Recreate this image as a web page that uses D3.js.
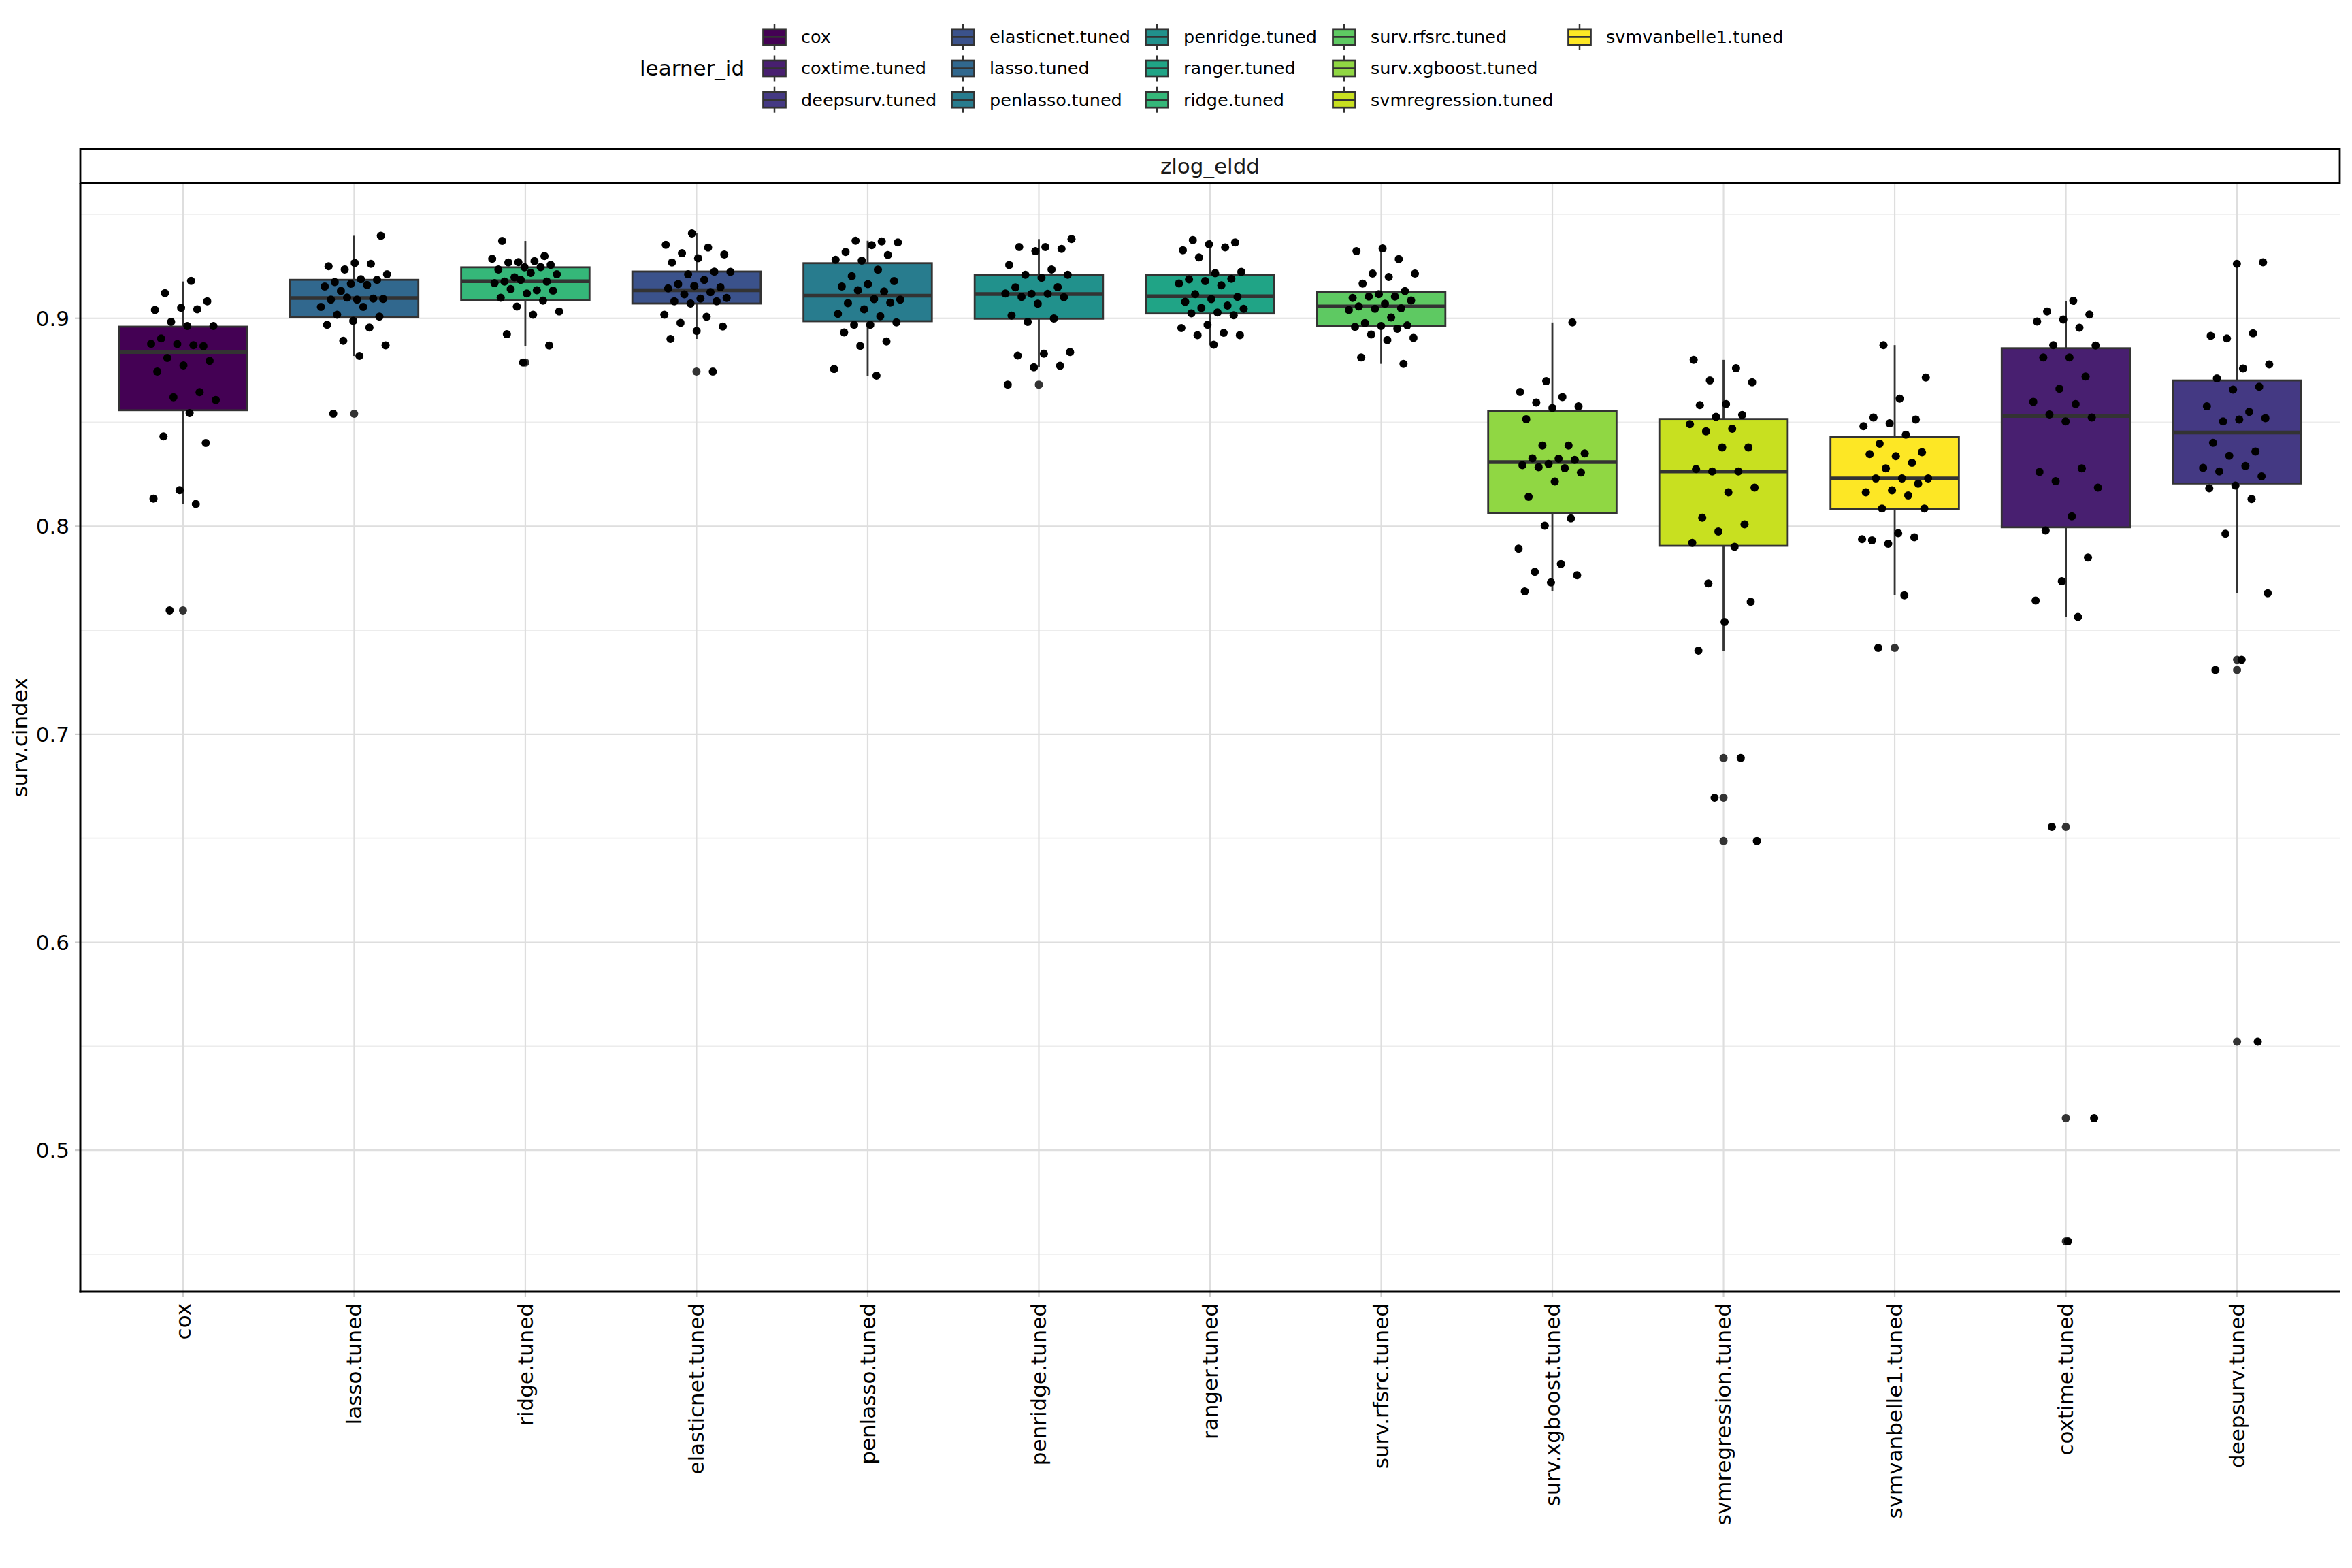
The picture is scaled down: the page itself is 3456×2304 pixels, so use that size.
<!DOCTYPE html>
<html>
<head>
<meta charset="utf-8">
<script src="https://cdn.jsdelivr.net/npm/d3@7"></script>
<style>
  html, body { margin: 0; padding: 0; background: #ffffff; }
  text { font-family: "DejaVu Sans", sans-serif; }
</style>
</head>
<body>
<svg id="chart" width="3456" height="2304"></svg>
<script>
// ---------------- DATA ----------------
// x-axis order of learners
const learners = ["cox", "lasso.tuned", "ridge.tuned", "elasticnet.tuned", "penlasso.tuned",
  "penridge.tuned", "ranger.tuned", "surv.rfsrc.tuned", "surv.xgboost.tuned",
  "svmregression.tuned", "svmvanbelle1.tuned", "coxtime.tuned", "deepsurv.tuned"];

// legend / colour order (factor levels)
const levels = ["cox", "coxtime.tuned", "deepsurv.tuned", "elasticnet.tuned", "lasso.tuned",
  "penlasso.tuned", "penridge.tuned", "ranger.tuned", "ridge.tuned", "surv.rfsrc.tuned",
  "surv.xgboost.tuned", "svmregression.tuned", "svmvanbelle1.tuned"];

const yTicks = [0.5, 0.6, 0.7, 0.8, 0.9];
const yMinorTicks = [0.45, 0.55, 0.65, 0.75, 0.85, 0.95];
const taskName = "zlog_eldd";
const yTitle = "surv.cindex";
const legendTitle = "learner_id";

// per-iteration surv.cindex values
const coxVals = [0.918, 0.9121, 0.9082, 0.9051, 0.904, 0.9043, 0.8983, 0.8963, 0.8963, 0.8903, 0.8866, 0.8876, 0.8877, 0.8871, 0.8809, 0.8795, 0.8773, 0.8744, 0.8645, 0.862, 0.8607, 0.8544, 0.8432, 0.84, 0.8174, 0.8133, 0.8107, 0.7595];
const lassoVals = [0.9397, 0.9266, 0.925, 0.9262, 0.9235, 0.9212, 0.9188, 0.9174, 0.9185, 0.9166, 0.9153, 0.916, 0.9132, 0.9093, 0.909, 0.909, 0.9095, 0.91, 0.9055, 0.9055, 0.9017, 0.9008, 0.8988, 0.8969, 0.8956, 0.8892, 0.887, 0.8819, 0.8541];
const ridgeVals = [0.9372, 0.9299, 0.927, 0.9286, 0.9275, 0.9268, 0.9257, 0.9245, 0.9235, 0.9246, 0.9197, 0.9212, 0.9218, 0.9177, 0.9177, 0.9185, 0.9169, 0.9135, 0.9141, 0.9133, 0.9119, 0.9099, 0.9085, 0.9056, 0.9033, 0.9017, 0.8924, 0.8869, 0.8787];
const elasticnetVals = [0.9408, 0.9353, 0.934, 0.9313, 0.9307, 0.9289, 0.9268, 0.9224, 0.9212, 0.9223, 0.9185, 0.9164, 0.915, 0.9155, 0.9144, 0.9126, 0.9115, 0.9098, 0.9095, 0.9082, 0.9082, 0.9071, 0.9017, 0.9007, 0.8978, 0.8961, 0.8939, 0.8901, 0.8744];
const penlassoVals = [0.937, 0.9373, 0.9365, 0.9352, 0.9319, 0.9304, 0.9277, 0.9281, 0.9234, 0.9203, 0.9179, 0.9164, 0.9153, 0.9129, 0.9135, 0.909, 0.9092, 0.9073, 0.9075, 0.9043, 0.9021, 0.901, 0.8969, 0.898, 0.8969, 0.8932, 0.8889, 0.8867, 0.8756, 0.8724];
const penridgeVals = [0.9381, 0.9343, 0.9343, 0.9334, 0.9323, 0.9256, 0.9235, 0.9209, 0.9209, 0.9195, 0.9149, 0.915, 0.9118, 0.9119, 0.9118, 0.9103, 0.9101, 0.907, 0.9013, 0.8999, 0.8983, 0.8838, 0.883, 0.8821, 0.8772, 0.8764, 0.8681];
const rangerVals = [0.9376, 0.9365, 0.9356, 0.9327, 0.9341, 0.9293, 0.9223, 0.9217, 0.9187, 0.919, 0.9179, 0.9168, 0.9159, 0.9116, 0.9103, 0.9092, 0.9079, 0.9061, 0.905, 0.9046, 0.9028, 0.9024, 0.9015, 0.8969, 0.8953, 0.893, 0.8919, 0.8919, 0.8873];
const rfsrcVals = [0.9336, 0.9323, 0.9285, 0.9215, 0.9215, 0.9199, 0.9167, 0.9131, 0.9116, 0.9098, 0.9105, 0.9105, 0.9086, 0.907, 0.9057, 0.9048, 0.9046, 0.904, 0.9004, 0.8977, 0.8966, 0.8963, 0.8959, 0.895, 0.8922, 0.8906, 0.8895, 0.8812, 0.8781];
const xgboostVals = [0.898, 0.8698, 0.8646, 0.8621, 0.8595, 0.8577, 0.8569, 0.8515, 0.8388, 0.8388, 0.835, 0.8325, 0.8327, 0.8319, 0.83, 0.8294, 0.8279, 0.8284, 0.8259, 0.8215, 0.8142, 0.8038, 0.8003, 0.7892, 0.7819, 0.7781, 0.7765, 0.773, 0.7687];
const svmregressionVals = [0.88, 0.876, 0.8701, 0.8692, 0.8588, 0.8583, 0.8535, 0.8526, 0.8491, 0.8469, 0.8457, 0.8379, 0.8379, 0.8275, 0.8264, 0.8264, 0.8186, 0.8163, 0.8041, 0.8009, 0.7975, 0.792, 0.7901, 0.7725, 0.7637, 0.754, 0.7402, 0.6886, 0.6695, 0.6487];
const svmvanbelle1Vals = [0.8871, 0.8715, 0.8614, 0.8523, 0.8513, 0.8495, 0.8481, 0.844, 0.8397, 0.8356, 0.8337, 0.8347, 0.8305, 0.8278, 0.823, 0.823, 0.823, 0.8205, 0.8173, 0.8163, 0.8148, 0.8085, 0.8085, 0.7967, 0.7932, 0.7947, 0.7916, 0.7938, 0.7668, 0.7415];
const coxtimeVals = [0.9084, 0.9033, 0.9018, 0.8994, 0.8984, 0.8955, 0.8871, 0.8869, 0.8812, 0.8812, 0.872, 0.8661, 0.8598, 0.8588, 0.8538, 0.8523, 0.8504, 0.8261, 0.8278, 0.8217, 0.8186, 0.8048, 0.798, 0.785, 0.7736, 0.7643, 0.7564, 0.6555, 0.5154, 0.4562];
const deepsurvVals = [0.9269, 0.9262, 0.8916, 0.8928, 0.8903, 0.8778, 0.8759, 0.8711, 0.8671, 0.8657, 0.8577, 0.855, 0.8504, 0.852, 0.8513, 0.8401, 0.8359, 0.8339, 0.8281, 0.829, 0.8264, 0.824, 0.8196, 0.8183, 0.8131, 0.7964, 0.7678, 0.7358, 0.7309, 0.5522];

// box statistics (in x-axis order)
const whiskerLow  = [0.8107, 0.8819, 0.8868, 0.8901, 0.8724, 0.8764, 0.8873, 0.8781, 0.7687, 0.7402, 0.7668, 0.7564, 0.7678];
const q1          = [0.8558, 0.9006, 0.9086, 0.9071, 0.8986, 0.8998, 0.9023, 0.8963, 0.8062, 0.7906, 0.8082, 0.7995, 0.8206];
const medians     = [0.8838, 0.9097, 0.9178, 0.9135, 0.9109, 0.9117, 0.9106, 0.9057, 0.8309, 0.8264, 0.8230, 0.8530, 0.8451];
const q3          = [0.8960, 0.9185, 0.9245, 0.9225, 0.9265, 0.9209, 0.9209, 0.9128, 0.8554, 0.8516, 0.8431, 0.8856, 0.8701];
const whiskerHigh = [0.9177, 0.9397, 0.9372, 0.9408, 0.9373, 0.9381, 0.9376, 0.9336, 0.8980, 0.8800, 0.8871, 0.9084, 0.9269];

// ---------------- BUILD ----------------
const valueArrays = [coxVals, lassoVals, ridgeVals, elasticnetVals, penlassoVals, penridgeVals,
  rangerVals, rfsrcVals, xgboostVals, svmregressionVals, svmvanbelle1Vals, coxtimeVals, deepsurvVals];

const table = learners.map((id, k) => ({
  id, values: valueArrays[k],
  lo: whiskerLow[k], q1: q1[k], med: medians[k], q3: q3[k], hi: whiskerHigh[k]
}));

const W = 3456, H = 2304;
const panel = { left: 118, right: 3438, top: 269, bottom: 1898 };
const strip = { top: 219, bottom: 269 };

const svg = d3.select("#chart");
svg.append("rect").attr("width", W).attr("height", H).attr("fill", "#ffffff");

const allVals = valueArrays.flat();
const vmin = d3.min(allVals), vmax = d3.max(allVals);
const pad = (vmax - vmin) * 0.05;
const y = d3.scaleLinear().domain([vmin - pad, vmax + pad]).range([panel.bottom, panel.top]);
const x = d3.scalePoint().domain(learners).range([panel.left, panel.right]).padding(0.6);
const step = x.step();
const boxW = step * 0.75;
const color = d3.scaleOrdinal().domain(levels)
  .range(levels.map((d, i) => d3.interpolateViridis(i / (levels.length - 1))));

const gridColor = "#dedede", minorColor = "#ececec";
const lineCol = "#333333";

// grid
const g = svg.append("g");
g.selectAll("line.minor").data(yMinorTicks).join("line")
  .attr("x1", panel.left).attr("x2", panel.right)
  .attr("y1", d => y(d)).attr("y2", d => y(d))
  .attr("stroke", minorColor).attr("stroke-width", 1.8);
g.selectAll("line.major").data(yTicks).join("line")
  .attr("x1", panel.left).attr("x2", panel.right)
  .attr("y1", d => y(d)).attr("y2", d => y(d))
  .attr("stroke", gridColor).attr("stroke-width", 2.2);
g.selectAll("line.vx").data(learners).join("line")
  .attr("x1", d => x(d)).attr("x2", d => x(d))
  .attr("y1", panel.top).attr("y2", panel.bottom)
  .attr("stroke", gridColor).attr("stroke-width", 2.2);

// strip
svg.append("rect").attr("x", panel.left).attr("y", strip.top)
  .attr("width", panel.right - panel.left).attr("height", strip.bottom - strip.top)
  .attr("fill", "#ffffff").attr("stroke", "#000000").attr("stroke-width", 2.8);
svg.append("text").attr("x", (panel.left + panel.right) / 2).attr("y", (strip.top + strip.bottom) / 2)
  .attr("dy", "0.35em").attr("text-anchor", "middle").attr("font-size", 31).attr("fill", "#1a1a1a")
  .text(taskName);

// boxes
const boxes = svg.append("g").selectAll("g.box").data(table).join("g");
boxes.append("line").attr("x1", d => x(d.id)).attr("x2", d => x(d.id))
  .attr("y1", d => y(d.hi)).attr("y2", d => y(d.q3))
  .attr("stroke", lineCol).attr("stroke-width", 2.8);
boxes.append("line").attr("x1", d => x(d.id)).attr("x2", d => x(d.id))
  .attr("y1", d => y(d.q1)).attr("y2", d => y(d.lo))
  .attr("stroke", lineCol).attr("stroke-width", 2.8);
boxes.append("rect").attr("x", d => x(d.id) - boxW / 2).attr("width", boxW)
  .attr("y", d => y(d.q3)).attr("height", d => y(d.q1) - y(d.q3))
  .attr("fill", d => color(d.id)).attr("stroke", lineCol).attr("stroke-width", 2.8);
boxes.append("line").attr("x1", d => x(d.id) - boxW / 2).attr("x2", d => x(d.id) + boxW / 2)
  .attr("y1", d => y(d.med)).attr("y2", d => y(d.med))
  .attr("stroke", lineCol).attr("stroke-width", 5.5);

// outliers (boxplot)
const outliers = table.flatMap(d => d.values
  .filter(v => v < d.lo - 0.0005 || v > d.hi + 0.0005)
  .map(v => ({ id: d.id, v })));
svg.append("g").selectAll("circle").data(outliers).join("circle")
  .attr("cx", d => x(d.id)).attr("cy", d => y(d.v)).attr("r", 6)
  .attr("fill", lineCol);

// jittered points (deterministic low-discrepancy jitter, +-0.2 of category step)
const pts = table.flatMap((d, k) => d.values.map((v, i) => {
  const u = ((i + 1) * 0.6180339887 + k * 0.2718) % 1;
  return { id: d.id, v, dx: (u - 0.5) * 2 * 0.2 * step };
}));
svg.append("g").selectAll("circle").data(pts).join("circle")
  .attr("cx", d => x(d.id) + d.dx).attr("cy", d => y(d.v)).attr("r", 6)
  .attr("fill", "#000000");

// axes
const yAxis = svg.append("g");
yAxis.selectAll("line").data(yTicks).join("line")
  .attr("x1", panel.left - 8).attr("x2", panel.left)
  .attr("y1", d => y(d)).attr("y2", d => y(d))
  .attr("stroke", "#cccccc").attr("stroke-width", 2.2);
yAxis.selectAll("text").data(yTicks).join("text")
  .attr("x", panel.left - 16).attr("y", d => y(d)).attr("dy", "0.36em")
  .attr("text-anchor", "end").attr("font-size", 31).attr("fill", "#000000")
  .text(d => d3.format(".1f")(d));

const xAxis = svg.append("g");
xAxis.selectAll("line").data(learners).join("line")
  .attr("x1", d => x(d)).attr("x2", d => x(d))
  .attr("y1", panel.bottom).attr("y2", panel.bottom + 8)
  .attr("stroke", "#cccccc").attr("stroke-width", 2.2);
xAxis.selectAll("text").data(learners).join("text")
  .attr("transform", d => `translate(${x(d)},${panel.bottom + 17}) rotate(-90)`)
  .attr("dy", "0.35em").attr("text-anchor", "end").attr("font-size", 31).attr("fill", "#000000")
  .text(d => d);

svg.append("line").attr("x1", panel.left).attr("x2", panel.left)
  .attr("y1", panel.top).attr("y2", panel.bottom + 1.5)
  .attr("stroke", "#000000").attr("stroke-width", 3);
svg.append("line").attr("x1", panel.left - 1.5).attr("x2", panel.right)
  .attr("y1", panel.bottom).attr("y2", panel.bottom)
  .attr("stroke", "#000000").attr("stroke-width", 3);

svg.append("text")
  .attr("transform", `translate(40,${(panel.top + panel.bottom) / 2}) rotate(-90)`)
  .attr("text-anchor", "middle").attr("font-size", 31).attr("fill", "#000000")
  .text(yTitle);

// legend
const colX = [1120, 1397, 1682, 1957, 2303];
const rowY = [54.3, 100.5, 146.7];
const leg = svg.append("g");
leg.append("text").attr("x", 940).attr("y", rowY[1]).attr("dy", "0.35em")
  .attr("font-size", 31).attr("fill", "#000000").text(legendTitle);
const items = leg.selectAll("g.item").data(levels).join("g")
  .attr("transform", (d, i) => `translate(${colX[Math.floor(i / 3)]},${rowY[i % 3]})`);
items.append("line").attr("x1", 18).attr("x2", 18).attr("y1", -19).attr("y2", 19)
  .attr("stroke", lineCol).attr("stroke-width", 2.5);
items.append("rect").attr("x", 1.5).attr("y", -11.5).attr("width", 33).attr("height", 23)
  .attr("fill", d => color(d)).attr("stroke", lineCol).attr("stroke-width", 2.7);
items.append("line").attr("x1", 1.5).attr("x2", 34.5).attr("y1", 0).attr("y2", 0)
  .attr("stroke", lineCol).attr("stroke-width", 2.7);
items.append("text").attr("x", 57).attr("y", 0).attr("dy", "0.35em")
  .attr("font-size", 25.5).attr("fill", "#000000").text(d => d);
</script>
</body>
</html>
